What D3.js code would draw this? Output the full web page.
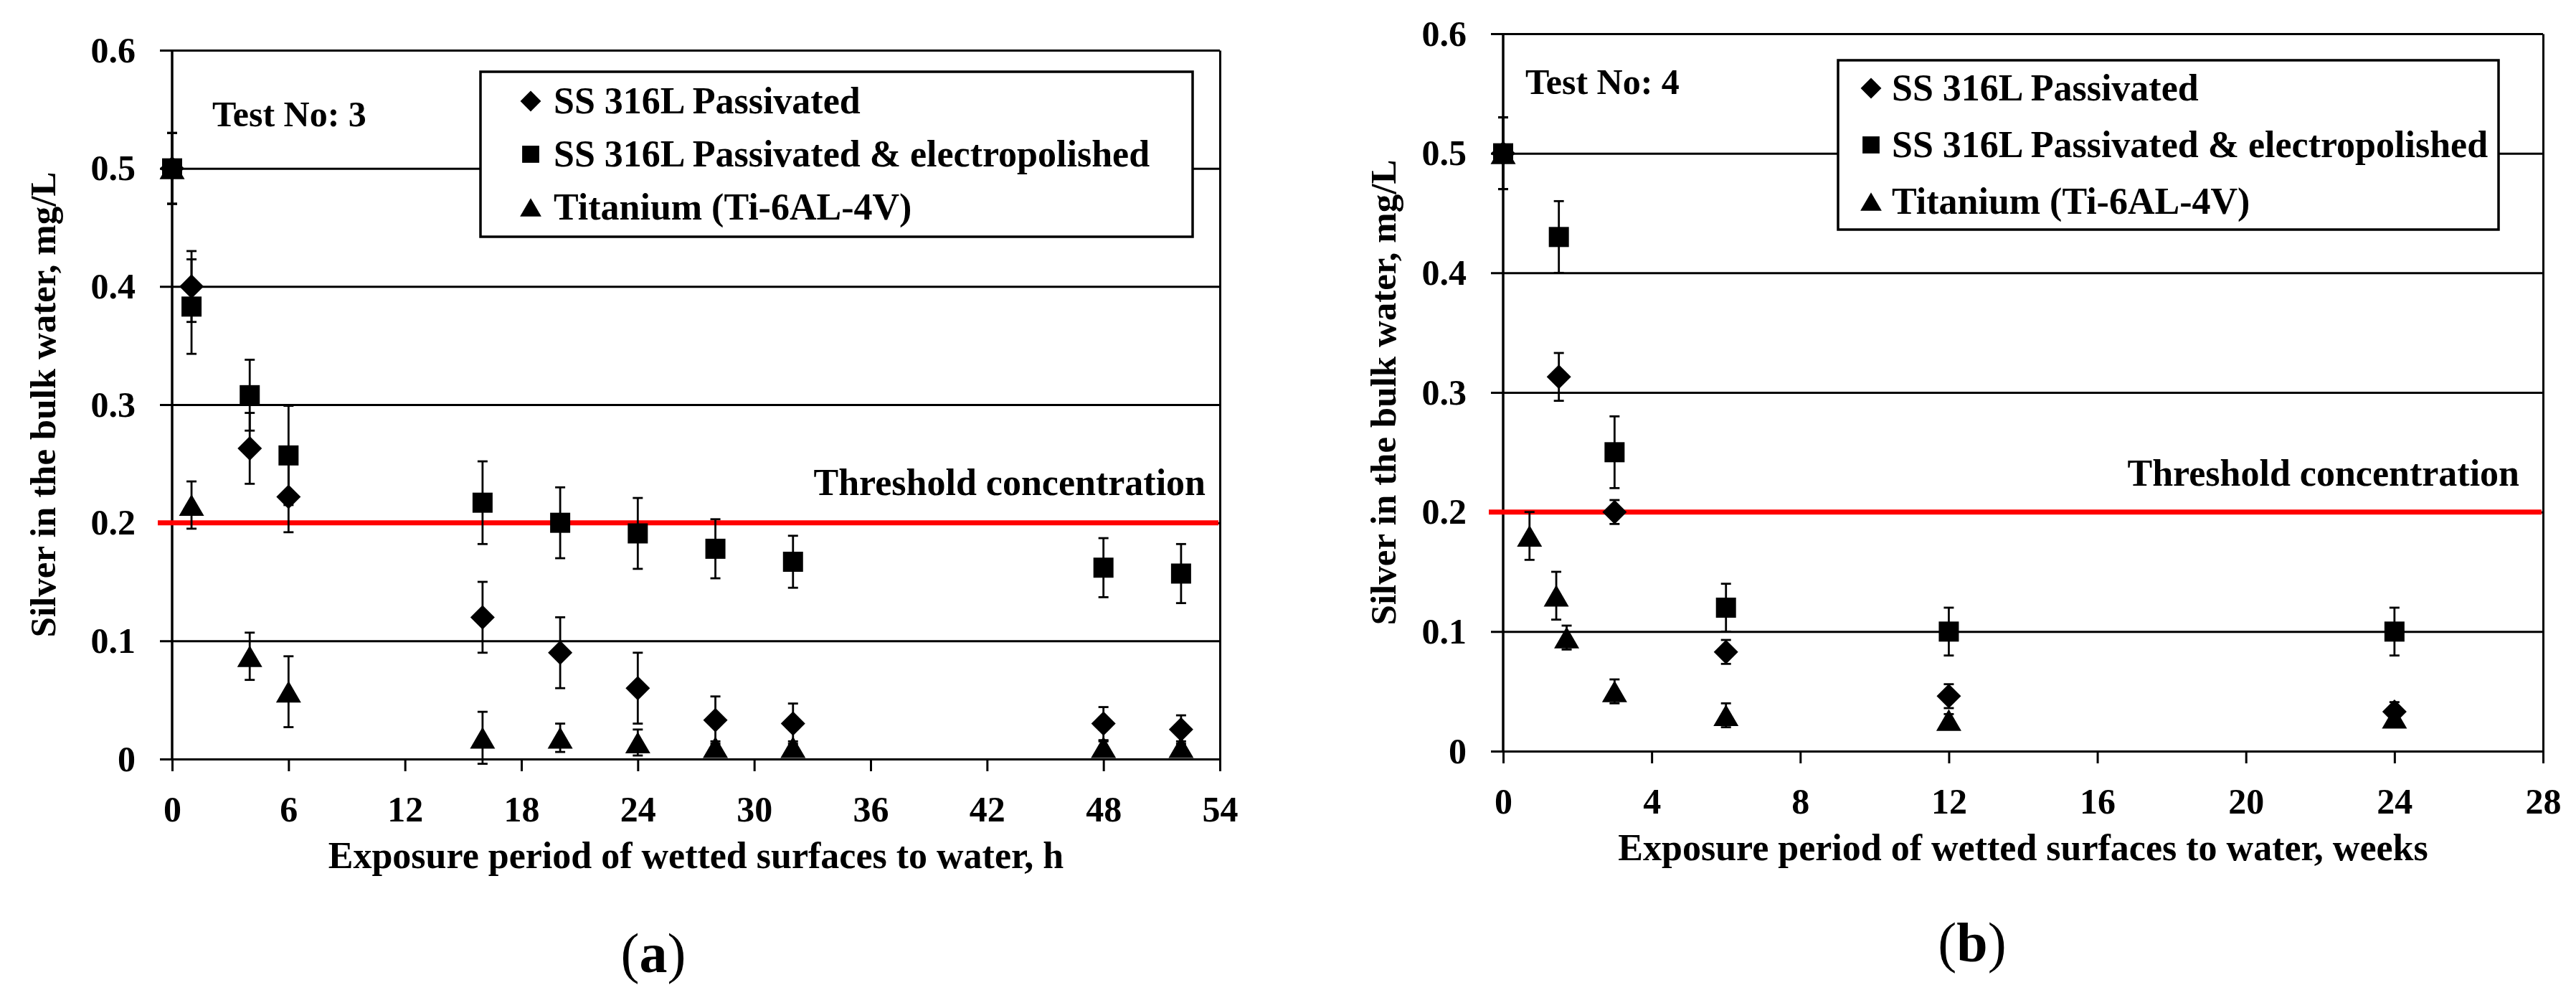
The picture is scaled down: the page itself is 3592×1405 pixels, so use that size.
<!DOCTYPE html>
<html>
<head>
<meta charset="utf-8">
<script src="https://cdn.jsdelivr.net/npm/d3@7"></script>
<style>
  body { margin: 0; background: #fff; }
  text { font-family: "Palatino Linotype", "Book Antiqua", Palatino, "Liberation Serif", serif; font-weight: bold; fill: #000; }
</style>
</head>
<body>
<svg id="chart" width="3592" height="1405"></svg>
<script>
// ---- panel (a): Test No 3, time in hours
const hoursA = [0, 1, 4, 6, 16, 20, 24, 28, 32, 48, 52]
const passA = [0.5, 0.40, 0.263, 0.222, 0.12, 0.09, 0.06, 0.033, 0.03, 0.03, 0.025]
const passErrA = [0.03, 0.03, 0.03, 0.03, 0.03, 0.03, 0.03, 0.02, 0.017, 0.014, 0.012]
const elecA = [0.5, 0.383, 0.308, 0.257, 0.217, 0.2, 0.191, 0.178, 0.167, 0.162, 0.157]
const elecErrA = [0.03, 0.04, 0.03, 0.042, 0.035, 0.03, 0.03, 0.025, 0.022, 0.025, 0.025]
const tiA = [0.5, 0.215, 0.087, 0.057, 0.018, 0.018, 0.014, 0.01, 0.01, 0.01, 0.01]
const tiErrA = [0.03, 0.02, 0.02, 0.03, 0.022, 0.012, 0.011, 0.005, 0.005, 0.005, 0.005]

// ---- panel (b): Test No 4, time in weeks
const weeksPassB = [0, 1.5, 3, 6, 12, 24]
const passB = [0.5, 0.313, 0.2, 0.083, 0.046, 0.033]
const passErrB = [0.03, 0.02, 0.01, 0.01, 0.01, 0.008]
const weeksElecB = [0, 1.5, 3, 6, 12, 24]
const elecB = [0.5, 0.43, 0.25, 0.12, 0.1, 0.1]
const elecErrB = [0.03, 0.03, 0.03, 0.02, 0.02, 0.02]
const weeksTiB = [0, 0.71, 1.43, 1.71, 3, 6, 12, 24]
const tiB = [0.5, 0.18, 0.13, 0.095, 0.05, 0.03, 0.026, 0.028]
const tiErrB = [0.03, 0.02, 0.02, 0.01, 0.01, 0.01, 0.005, 0.005]

const yTicks = [0, 0.1, 0.2, 0.3, 0.4, 0.5, 0.6]
const seriesNames = ['SS 316L Passivated', 'SS 316L Passivated & electropolished', 'Titanium (Ti-6AL-4V)']
const threshold = 0.2

const svg = d3.select('#chart')

// excel style markers, size = marker width
const diamond = { draw (c, s) { const r = s / 2; c.moveTo(0, -r); c.lineTo(r, 0); c.lineTo(0, r); c.lineTo(-r, 0); c.closePath() } }
const square = { draw (c, s) { const r = s / 2; c.moveTo(-r, -r); c.lineTo(r, -r); c.lineTo(r, r); c.lineTo(-r, r); c.closePath() } }
const triangle = { draw (c, s) { const h = s * 0.86 / 2; c.moveTo(0, -h); c.lineTo(s / 2, h); c.lineTo(-s / 2, h); c.closePath() } }
const shapes = [diamond, square, triangle]
const shapeSize = [34, 28, 35]

function zip (xs, ys, es) { return xs.map((d, i) => ({ x: d, y: ys[i], e: es[i] })) }

function drawPanel (cfg) {
  const g = svg.append('g')
  const x = d3.scaleLinear().domain([0, cfg.xMax]).range([cfg.left, cfg.right])
  const y = d3.scaleLinear().domain([0, 0.6]).range([cfg.bottom, cfg.top])
  const w = cfg.right - cfg.left

  // gridlines + y ticks, drawn from the right border leftwards
  const yAxis = g.append('g').attr('transform', `translate(${cfg.right},0)`)
    .call(d3.axisLeft(y).tickValues(yTicks).tickSizeInner(w + 17).tickSizeOuter(0).tickPadding(34)
      .tickFormat(d => d === 0 ? '0' : d3.format('.1f')(d)))
  yAxis.selectAll('line, path').attr('stroke', '#000').attr('stroke-width', 3)
  yAxis.selectAll('text').attr('font-size', 50).attr('font-family', null)

  const xAxis = g.append('g').attr('transform', `translate(0,${cfg.bottom})`)
    .call(d3.axisBottom(x).tickValues(d3.range(0, cfg.xMax + 1, cfg.xStep)).tickSizeInner(17).tickSizeOuter(0).tickPadding(34))
  xAxis.selectAll('line, path').attr('stroke', '#000').attr('stroke-width', 3)
  xAxis.selectAll('text').attr('font-size', 50).attr('font-family', null)

  // left axis line
  g.append('line').attr('x1', cfg.left).attr('x2', cfg.left).attr('y1', cfg.top).attr('y2', cfg.bottom)
    .attr('stroke', '#000').attr('stroke-width', 3.5)

  // threshold
  g.append('line').attr('x1', cfg.left - 20).attr('x2', cfg.right - 2)
    .attr('y1', y(threshold)).attr('y2', y(threshold))
    .attr('stroke', '#ff0000').attr('stroke-width', 7)
  g.append('text').attr('x', cfg.threshX).attr('y', cfg.threshY).attr('text-anchor', 'end')
    .attr('font-size', 52).text('Threshold concentration')

  g.append('text').attr('x', cfg.testX).attr('y', cfg.testY).attr('font-size', 50).text(cfg.test)

  // legend
  const lg = cfg.legend
  g.append('rect').attr('x', lg.x).attr('y', lg.y).attr('width', lg.w).attr('height', lg.h)
    .attr('fill', '#fff').attr('stroke', '#000').attr('stroke-width', 3.5)
  seriesNames.forEach((name, i) => {
    const cy = lg.y + lg.h / 2 + (i - 1) * lg.gap
    g.append('path').attr('transform', `translate(${lg.x + lg.mx},${cy})`)
      .attr('d', d3.symbol().type(shapes[i]).size(shapeSize[i] * 0.85)()).attr('fill', '#000')
    g.append('text').attr('x', lg.x + lg.tx).attr('y', cy).attr('dy', '0.33em')
      .attr('font-size', 52).text(name)
  })

  // series: error bars then markers
  cfg.series.forEach((data, i) => {
    const s = g.append('g')
    const bars = s.selectAll('g.err').data(data).join('g').attr('class', 'err')
      .attr('stroke', '#000').attr('stroke-width', 2.8)
    bars.append('line').attr('x1', d => x(d.x)).attr('x2', d => x(d.x))
      .attr('y1', d => y(d.y + d.e)).attr('y2', d => y(d.y - d.e))
    bars.append('line').attr('x1', d => x(d.x) - 7).attr('x2', d => x(d.x) + 7)
      .attr('y1', d => y(d.y + d.e)).attr('y2', d => y(d.y + d.e))
    bars.append('line').attr('x1', d => x(d.x) - 7).attr('x2', d => x(d.x) + 7)
      .attr('y1', d => y(d.y - d.e)).attr('y2', d => y(d.y - d.e))
    s.selectAll('path.mark').data(data).join('path').attr('class', 'mark')
      .attr('transform', d => `translate(${x(d.x)},${y(d.y)})`)
      .attr('d', d3.symbol().type(shapes[i]).size(shapeSize[i])())
      .attr('fill', '#000')
  })

  // axis titles and panel label
  g.append('text').attr('transform', `translate(${cfg.yTitleX},${(cfg.top + cfg.bottom) / 2}) rotate(-90)`)
    .attr('text-anchor', 'middle').attr('font-size', 51).text('Silver in the bulk water, mg/L')
  g.append('text').attr('x', (cfg.left + cfg.right) / 2).attr('y', cfg.bottom + 152)
    .attr('text-anchor', 'middle').attr('font-size', 52).text(cfg.xTitle)
  const lab = g.append('text').attr('x', cfg.labelX).attr('y', cfg.labelY).attr('text-anchor', 'middle').attr('font-size', 78)
  lab.append('tspan').attr('font-weight', 'normal').text('(')
  lab.append('tspan').text(cfg.label)
  lab.append('tspan').attr('font-weight', 'normal').text(')')
}

drawPanel({
  left: 240, right: 1701, top: 70, bottom: 1058, xMax: 54, xStep: 6,
  threshX: 1681, threshY: 690, test: 'Test No: 3', testX: 296, testY: 176,
  legend: { x: 670, y: 100, w: 993, h: 230, gap: 74, mx: 70, tx: 102 },
  yTitleX: 77, xTitle: 'Exposure period of wetted surfaces to water, h',
  label: 'a', labelX: 911, labelY: 1355,
  series: [zip(hoursA, passA, passErrA), zip(hoursA, elecA, elecErrA), zip(hoursA, tiA, tiErrA)]
})

drawPanel({
  left: 2096, right: 3546, top: 47, bottom: 1047, xMax: 28, xStep: 4,
  threshX: 3513, threshY: 677, test: 'Test No: 4', testX: 2127, testY: 131,
  legend: { x: 2563, y: 84, w: 921, h: 236, gap: 79, mx: 46, tx: 75 },
  yTitleX: 1946, xTitle: 'Exposure period of wetted surfaces to water, weeks',
  label: 'b', labelX: 2750, labelY: 1340,
  series: [zip(weeksPassB, passB, passErrB), zip(weeksElecB, elecB, elecErrB), zip(weeksTiB, tiB, tiErrB)]
})
</script>
</body>
</html>
